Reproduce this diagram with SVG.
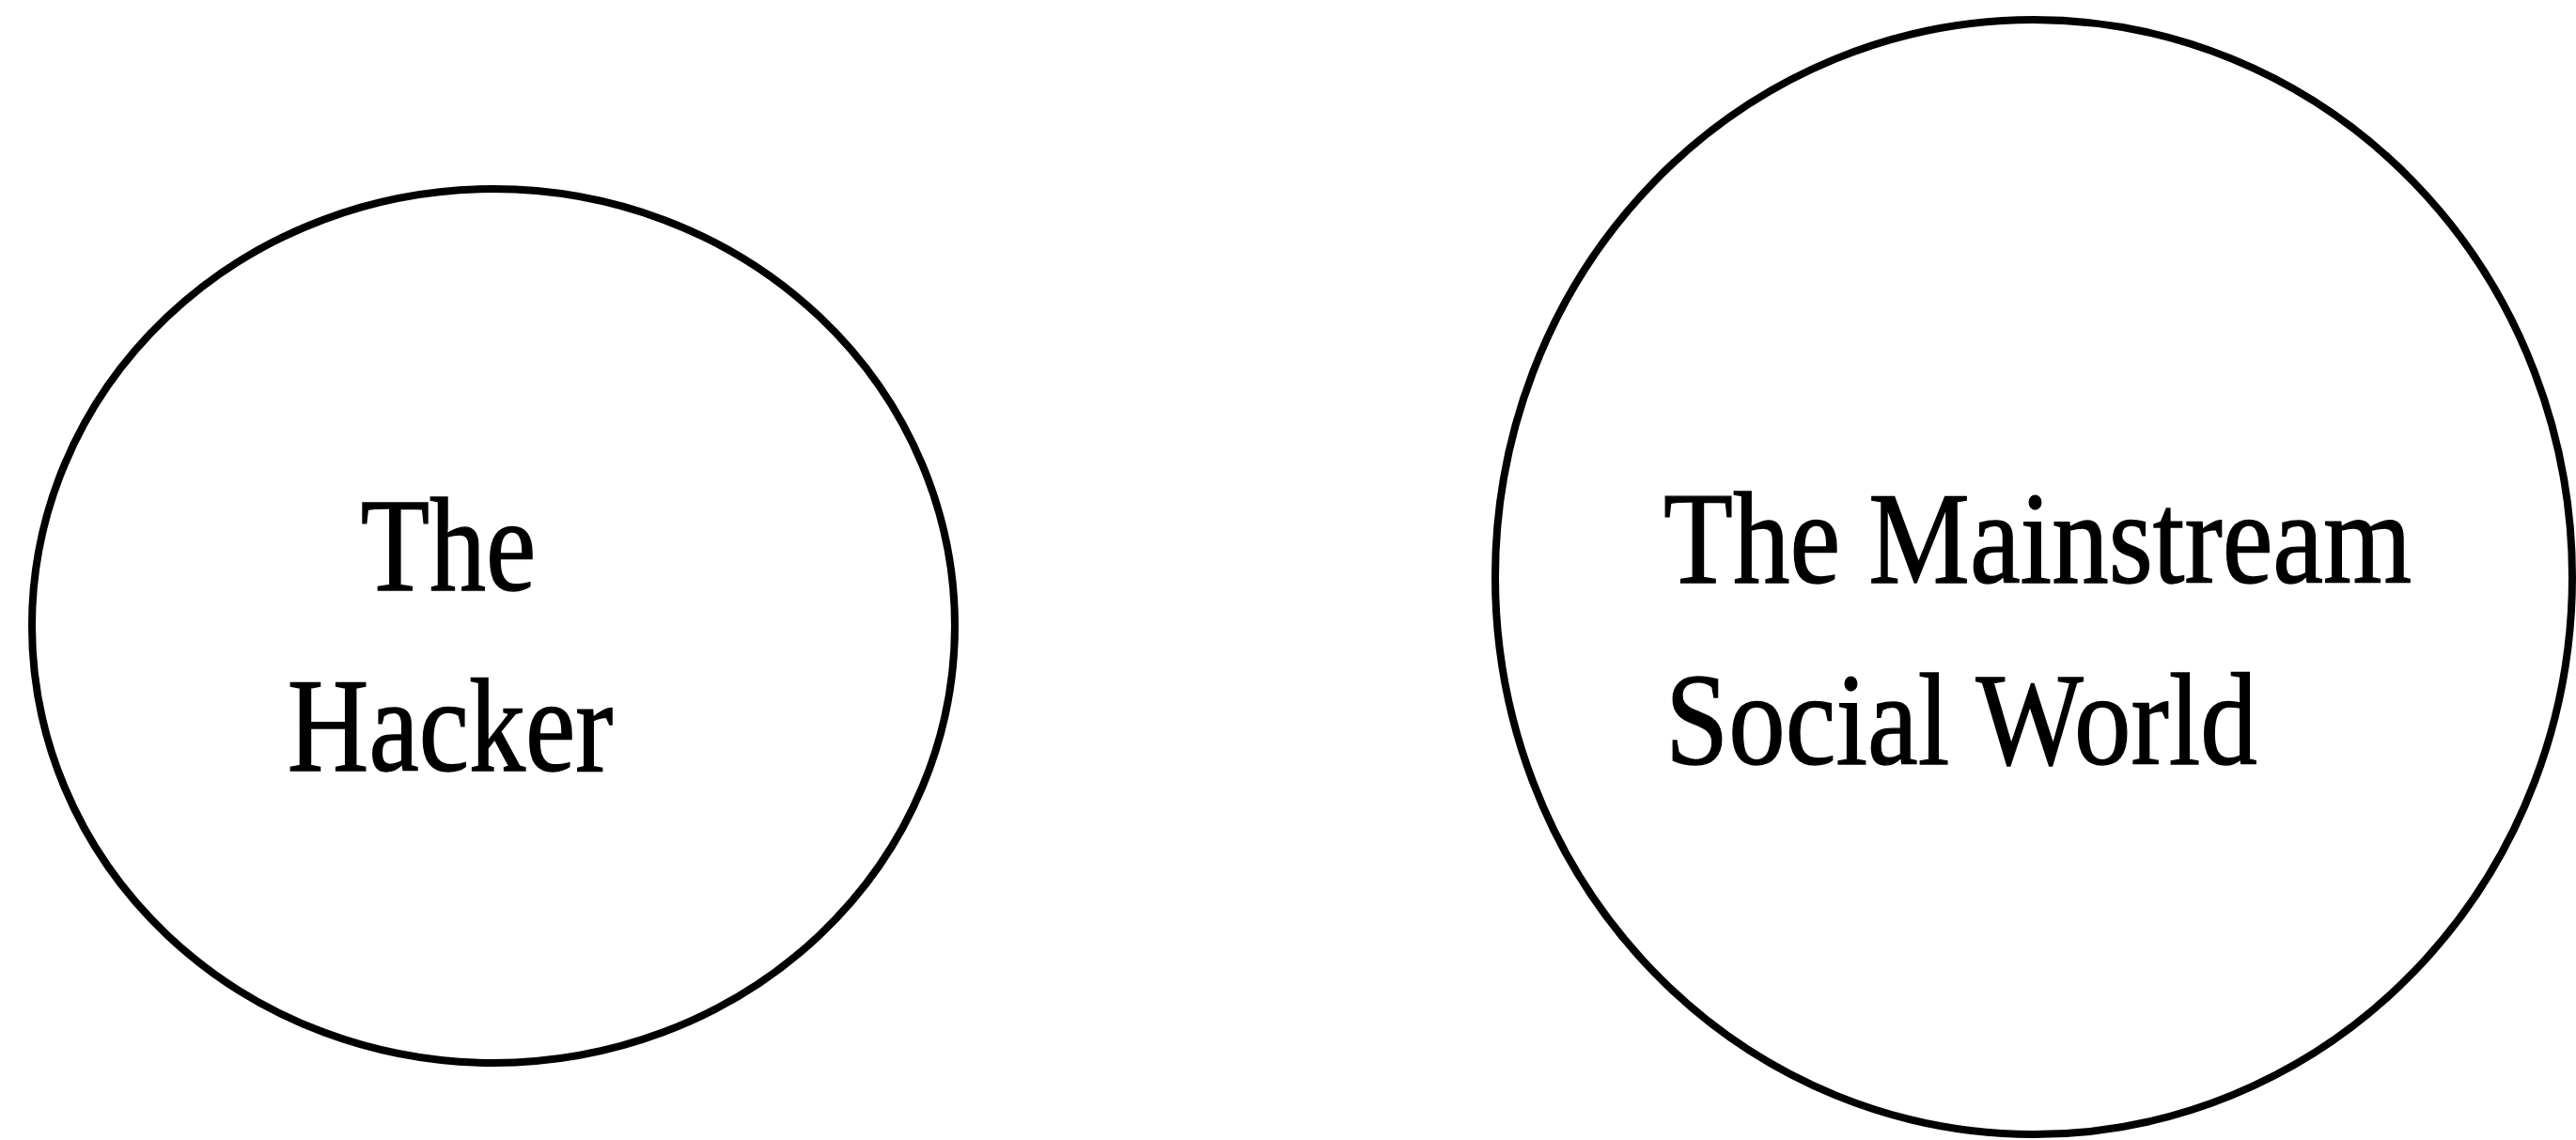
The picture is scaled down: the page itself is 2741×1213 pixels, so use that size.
<svg xmlns="http://www.w3.org/2000/svg" width="2741" height="1213" viewBox="0 0 2741 1213">
<style>
.c{fill:none;stroke:#000;stroke-width:8}
.t{font-family:"Liberation Serif","Times New Roman",serif;fill:#000;stroke:#000;stroke-width:1.2}
</style>
<rect width="2741" height="1213" fill="#fff"/>
<g id="hacker">
<ellipse class="c" cx="525" cy="666" rx="491" ry="465"/>
<text class="t" font-size="120" text-anchor="middle" transform="translate(477,628) scale(1,1.19)">The</text>
<text class="t" font-size="120" text-anchor="middle" transform="translate(479,820) scale(1,1.19)">Hacker</text>
</g>
<g id="mainstream">
<ellipse class="c" cx="2164" cy="614" rx="573" ry="593"/>
<text class="t" font-size="121" transform="translate(1770,620) scale(1,1.16)">The Mainstream</text>
<text class="t" font-size="121" transform="translate(1772,813) scale(1,1.16)">Social World</text>
</g>
<g id="connectors"/>
</svg>
